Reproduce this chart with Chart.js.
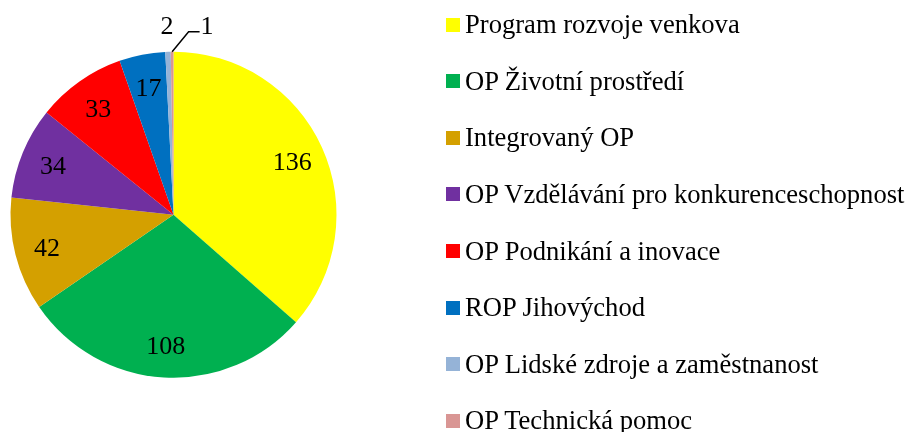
<!DOCTYPE html>
<html lang="cs">
<head>
  <meta charset="UTF-8">
  <title>Počet projektů podle operačních programů</title>
  <script src="https://cdn.jsdelivr.net/npm/chart.js"></script>
  <style>
    body {
      margin: 0;
      background: #fff;
      font-family: "Liberation Serif", "Times New Roman", serif;
    }
    .wrap {
      position: relative;
      width: 909px;
      height: 432px;
    }
    #legend {
      position: absolute;
      left: 446px;
      top: -3.8px;
      margin: 0;
      padding: 0;
      list-style: none;
    }
    #legend li {
      height: 56.64px;
      display: flex;
      align-items: center;
      font-size: 26.6px;
      color: #000;
      white-space: nowrap;
    }
    #legend .box {
      width: 14px;
      height: 14px;
      margin-right: 5px;
      flex: none;
    }
  </style>
</head>
<body>
  <div class="wrap">
    <canvas id="pieChart"></canvas>
    <ul id="legend"></ul>
  </div>

  <script>
    const programs = [
      'Program rozvoje venkova',
      'OP Životní prostředí',
      'Integrovaný OP',
      'OP Vzdělávání pro konkurenceschopnost',
      'OP Podnikání a inovace',
      'ROP Jihovýchod',
      'OP Lidské zdroje a zaměstnanost',
      'OP Technická pomoc'
    ];
    const counts = [136, 108, 42, 34, 33, 17, 2, 1];
    const colors = ['#FFFF00', '#00B050', '#D4A000', '#7030A0', '#FF0000', '#0070C0', '#95B3D7', '#D99694'];

    const total = counts.reduce((a, b) => a + b, 0);
    const fontPx = 26;
    const labelFont = fontPx + 'px "Liberation Serif", "Times New Roman", serif';

    // value labels: inside big slices, outside (with leader if crowded) for tiny ones
    const sliceLabels = {
      id: 'sliceLabels',
      afterDatasetsDraw(chart) {
        const ctx = chart.ctx;
        const meta = chart.getDatasetMeta(0);
        const lift = fontPx * 0.338; // half of digit height, to centre digits
        ctx.save();
        ctx.font = labelFont;
        ctx.fillStyle = '#000';
        ctx.strokeStyle = '#000';
        ctx.lineWidth = 1.5;
        ctx.textAlign = 'center';
        ctx.textBaseline = 'alphabetic';
        let prev = null;
        meta.data.forEach((arc, i) => {
          const p = arc.getProps(['x', 'y', 'startAngle', 'endAngle', 'outerRadius'], true);
          const mid = (p.startAngle + p.endAngle) / 2;
          const text = String(counts[i]);
          if (counts[i] / total > 0.02) {
            const d = p.outerRadius * 0.8;
            ctx.fillText(text, p.x + Math.cos(mid) * d, p.y + Math.sin(mid) * d + lift);
            return;
          }
          const w = ctx.measureText(text).width;
          const d = p.outerRadius * 1.165;
          let lx = p.x + Math.cos(mid) * d;
          const ly = p.y + Math.sin(mid) * d;
          if (prev && lx - w / 2 < prev.right + 20) {
            lx = prev.right + 27 + w / 2;
            const ex = p.x + Math.cos(mid) * p.outerRadius;
            const ey = p.y + Math.sin(mid) * p.outerRadius;
            ctx.beginPath();
            ctx.moveTo(ex, ey);
            ctx.lineTo(lx - w / 2 - 12, ly + 7);
            ctx.lineTo(lx - w / 2 - 1, ly + 7);
            ctx.stroke();
          }
          ctx.fillText(text, lx, ly + lift);
          prev = { right: lx + w / 2 };
        });
        ctx.restore();
      }
    };

    new Chart(document.getElementById('pieChart'), {
      type: 'pie',
      data: {
        labels: programs,
        datasets: [{
          data: counts,
          backgroundColor: colors,
          borderWidth: 0,
          hoverOffset: 0
        }]
      },
      options: {
        responsive: true,
        maintainAspectRatio: false,
        animation: false,
        layout: {
          padding: { left: 10.5, right: 572.5, top: 51.7, bottom: 54.3 }
        },
        plugins: {
          legend: { display: false },
          tooltip: { enabled: false }
        }
      },
      plugins: [sliceLabels]
    });

    const legend = document.getElementById('legend');
    programs.forEach((name, i) => {
      const li = document.createElement('li');
      li.innerHTML = `<span class="box" style="background:${colors[i]}"></span>${name}`;
      legend.appendChild(li);
    });
  </script>
</body>
</html>
